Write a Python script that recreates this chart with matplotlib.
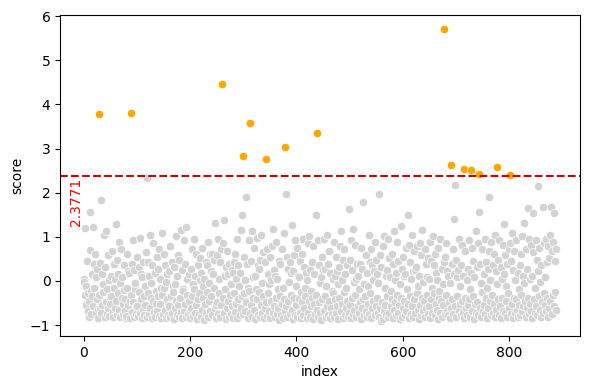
import numpy as np
import matplotlib.pyplot as plt

threshold = 2.3771

# score per index (10 per row)
scores = [
    0.05, -0.02, 1.21, -0.31, -0.55, -0.12, 0.45, -0.69, -0.28, -0.81,
    -0.45, 0.71, 1.56, -0.22, -0.76, -0.35, 0.15, 1.22, -0.58, 0.38,
    -0.15, 0.62, -0.72, 0.08, -0.41, 0.28, -0.85, -0.63, -0.33, 3.78,
    -0.62, 0.41, 1.83, -0.72, 0.15, -0.55, -0.08, -0.25, 1.05, -0.81,
    0.32, -0.48, 1.13, -0.74, -0.18, 0.58, -0.62, 0.02, -0.79, -0.38,
    -0.52, 0.12, -0.35, 0.68, -0.71, -0.81, -0.15, 0.38, -0.61, 0.05,
    1.29, -0.45, 0.48, -0.78, 0.15, -0.28, 0.88, -0.66, -0.05, -0.82,
    0.72, -0.38, 0.08, -0.75, -0.52, -0.21, 0.35, -0.69, -0.42, -0.85,
    -0.79, 0.62, -0.15, 0.22, -0.55, 0.18, -0.83, -0.45, -0.32, 3.81,
    -0.71, 0.38, 0.92, -0.48, -0.82, 0.25, -0.19, -0.05, -0.76, -0.58,
    -0.58, 0.55, -0.79, 0.32, -0.25, 0.98, -0.72, -0.41, 0.15, -0.83,
    0.08, -0.65, 0.42, -0.35, -0.78, -0.12, -0.55, 0.65, -0.81, 2.34,
    -0.28, 0.42, -0.75, 0.12, 1.04, -0.62, -0.38, -0.05, -0.85, 0.35,
    -0.45, 0.85, -0.71, 0.18, -0.82, -0.52, -0.22, 0.55, -0.68, -0.35,
    0.28, -0.79, 0.72, -0.52, 0.05, -0.84, -0.15, -0.31, 1.08, -0.75,
    -0.15, 0.62, -0.66, 0.35, -0.83, -0.02, -0.42, 0.15, -0.77, -0.55,
    -0.58, 0.22, -0.81, 0.78, -0.35, 0.42, -0.72, -0.12, -0.25, -0.86,
    0.32, -0.62, -0.08, -0.45, 1.02, -0.78, 0.12, -0.55, 0.58, -0.82,
    0.48, -0.38, 1.15, -0.71, 0.25, -0.85, -0.18, -0.22, -0.68, 0.92,
    -0.52, 0.38, -0.82, 1.22, -0.31, 0.05, -0.76, 0.15, -0.45, -0.65,
    -0.84, 0.28, -0.62, 0.72, -0.35, -0.79, -0.08, -0.18, 0.95, -0.72,
    0.12, -0.55, 0.62, -0.86, 0.35, -0.42, -0.28, -0.75, 0.02, 0.52,
    -0.81, 0.18, -0.65, 0.75, -0.38, -0.12, -0.88, 0.05, -0.52, 0.42,
    -0.72, 0.35, -0.25, 0.88, -0.82, -0.05, -0.45, 0.62, -0.68, 0.22,
    -0.35, 0.62, -0.78, 0.15, -0.15, 0.48, -0.62, 1.32, -0.85, -0.55,
    -0.48, 0.58, -0.75, 0.95, -0.28, 0.05, -0.82, 0.42, -0.55, 0.72,
    4.46, -0.38, 0.85, -0.72, 1.37, -0.18, 0.12, -0.86, 0.32, -0.62,
    0.68, -0.45, 0.15, -0.81, 0.38, -0.32, -0.08, -0.75, 0.25, -0.58,
    0.18, -0.83, 0.42, -0.28, 0.62, -0.71, 0.05, -0.52, 0.95, -0.85,
    0.35, -0.42, -0.12, -0.78, 0.18, -0.62, 1.15, 1.50, -0.35, 2.84,
    -0.75, 0.55, -0.28, 0.02, -0.68, 1.90, -0.48, 0.38, -0.84, -0.15,
    -0.22, 0.92, 3.58, -0.72, 0.45, -0.55, 1.12, -0.82, 0.08, -0.38,
    0.75, -0.65, 0.12, -0.86, -0.18, -0.42, 0.98, -0.78, 0.35, -0.25,
    0.28, -0.81, 0.48, -0.55, 1.05, -0.72, -0.05, -0.35, 0.65, -0.84,
    0.42, -0.62, 2.77, -0.48, 0.72, -0.79, 0.15, -0.28, -0.08, -0.68,
    0.55, -0.85, 0.02, -0.45, 0.78, -0.72, 1.18, -0.58, 0.25, -0.82,
    0.12, -0.38, 0.88, -0.75, 0.05, -0.62, -0.18, -0.88, 0.45, -0.35,
    0.38, -0.78, 0.72, -0.52, -0.15, -0.85, 1.08, -0.42, 3.04, -0.68,
    1.98, -0.58, 0.55, -0.82, 0.28, -0.45, -0.02, -0.75, 0.42, -0.32,
    0.18, 1.26, -0.65, 0.22, -0.86, 0.58, -0.38, 0.92, -0.78, -0.12,
    -0.55, 0.75, -0.82, 0.12, -0.42, 0.08, -0.72, 0.45, -0.25, -0.85,
    0.62, -0.48, 0.95, -0.78, 0.32, -0.62, -0.15, -0.35, 0.18, -0.84,
    0.02, -0.72, 0.85, -0.45, 1.02, -0.81, 0.25, -0.58, -0.22, -0.38,
    0.42, -0.86, 0.78, -0.52, 0.15, -0.75, 1.50, -0.32, 3.36, -0.65,
    0.92, -0.82, 0.35, -0.48, -0.05, -0.72, 0.08, -0.88, 0.55, -0.42,
    0.25, -0.68, 0.95, -0.35, 0.28, -0.82, -0.12, -0.58, 1.05, -0.78,
    0.38, -0.45, 0.68, -0.85, 0.18, -0.62, -0.22, -0.75, 0.05, -0.28,
    0.88, -0.82, 0.12, -0.42, 0.55, -0.72, 0.22, -0.58, -0.08, -0.86,
    0.32, -0.38, 0.78, -0.68, 1.12, -0.52, 0.02, -0.84, 0.48, -0.25,
    0.72, -0.78, 0.15, -0.62, -0.15, -0.45, 0.35, -0.81, 1.62, -0.72,
    0.48, -0.55, 0.92, -0.85, 0.25, -0.38, 1.18, -0.75, -0.02, -0.65,
    0.82, -0.32, 0.05, -0.82, 0.38, -0.58, 0.12, -0.72, -0.18, -0.48,
    0.38, -0.86, 0.75, -0.62, 0.28, -0.42, 1.78, -0.78, -0.08, -0.35,
    0.58, -0.68, 0.18, -0.82, -0.12, -0.52, 1.05, -0.75, 0.42, -0.28,
    0.72, -0.85, 0.35, -0.62, 0.02, -0.45, 0.22, -0.78, 0.88, -0.58,
    0.48, -0.38, 0.15, -0.72, -0.05, -0.82, 1.96, -0.62, 0.58, -0.92,
    0.32, -0.48, 0.78, -0.86, 1.02, -0.68, -0.15, -0.55, 0.12, -0.78,
    0.25, -0.35, 0.95, -0.82, 0.52, -0.72, 0.08, -0.58, -0.22, -0.42,
    0.62, -0.85, 0.38, -0.65, 1.12, -0.48, 0.02, -0.78, 0.18, -0.32,
    0.88, -0.72, 0.45, -0.55, -0.08, -0.86, 1.25, -0.38, 0.28, -0.82,
    0.55, -0.62, 0.12, -0.45, 0.15, -0.78, 0.75, -0.68, -0.18, 1.50,
    -0.52, 0.82, -0.85, 0.42, -0.35, 0.05, -0.75, 1.05, -0.58, 0.22,
    -0.82, 0.68, -0.42, 0.25, -0.72, 0.32, -0.28, 0.78, -0.65, -0.12,
    -0.86, 0.12, -0.55, 0.85, -0.78, 0.58, -0.38, 1.15, -0.68, -0.02,
    -0.45, 0.72, -0.82, 0.38, -0.62, 0.08, -0.32, 0.52, -0.75, 0.05,
    -0.58, 0.88, -0.85, 0.45, -0.42, -0.15, -0.72, 1.02, -0.28, 0.35,
    -0.78, 0.62, -0.52, 0.18, -0.65, 0.02, -0.86, 0.75, -0.38, -0.22,
    -0.72, 0.95, -0.45, 0.28, -0.82, -0.08, -0.55, 0.42, 5.70, -0.75,
    0.55, -0.32, 0.85, -0.68, 0.22, -0.78, 0.12, -0.48, -0.05, -0.85,
    2.63, -0.62, 0.38, -0.42, 0.72, -0.75, 0.15, 1.41, -0.58, 2.18,
    0.48, -0.82, 0.08, -0.35, 0.25, -0.68, 0.95, -0.52, -0.12, -0.78,
    0.35, -0.45, 0.82, -0.72, 0.12, -0.85, 2.54, -0.38, 0.68, -0.62,
    0.02, -0.78, 0.28, -0.55, 0.92, -0.42, -0.18, -0.82, 0.18, 2.52,
    -0.68, 0.75, -0.35, 0.45, -0.86, 0.08, -0.52, 1.12, -0.72, 0.32,
    -0.48, 0.85, -0.78, 2.43, 1.57, -0.62, 0.38, -0.82, -0.05, -0.25,
    0.72, -0.68, 0.15, -0.55, 0.95, -0.75, 0.42, -0.38, -0.15, -0.85,
    0.28, -0.62, 0.68, 1.90, -0.45, 0.02, -0.78, 0.88, -0.32, 0.35,
    -0.72, 0.62, -0.52, 1.05, -0.82, 0.22, -0.65, -0.08, 2.59, -0.42,
    0.48, -0.78, 0.92, -0.58, 0.32, -0.85, 0.05, -0.38, 0.82, -0.68,
    0.15, 1.30, -0.72, 0.58, -0.45, -0.12, -0.82, 0.38, -0.28, 0.72,
    -0.62, 0.85, 2.39, -0.75, 0.45, -0.52, 1.08, -0.85, 0.25, -0.38,
    0.68, -0.72, 0.02, -0.42, 0.92, -0.65, 0.18, -0.82, -0.18, -0.55,
    0.35, -0.78, 0.62, -0.32, 1.02, -0.68, 0.12, -0.58, -0.05, 1.32,
    -0.45, 0.72, -0.82, 0.28, -0.62, 1.65, -0.38, 0.95, -0.75, 0.05,
    -0.52, 0.82, -0.68, 0.12, -0.85, 0.65, 1.53, -0.42, -0.15, -0.72,
    0.92, -0.58, 0.48, -0.78, 0.22, 2.14, -0.35, 0.75, -0.65, -0.02,
    -0.82, 0.35, -0.48, 1.68, -0.72, 0.85, -0.28, 0.08, -0.55, 0.95,
    -0.68, 0.42, -0.38, 0.78, -0.82, 0.52, -0.62, 1.05, -0.45, 1.68,
    -0.75, 0.68, -0.32, 0.88, -0.58, 1.55, -0.25, 0.45, -0.65, 0.72,
]

scores = np.array(scores)
idx = np.arange(len(scores))
above = scores > threshold

fig, ax = plt.subplots(figsize=(5.9, 3.89))
fig.subplots_adjust(left=0.102, right=0.983, top=0.962, bottom=0.136)
ax.scatter(idx[~above], scores[~above], s=36, c='lightgray', edgecolors='white', linewidths=0.48)
ax.scatter(idx[above], scores[above], s=36, c='orange', edgecolors='white', linewidths=0.48)
ax.axhline(threshold, color='#cc0000', linestyle='--', linewidth=1.5)
ax.text(-15, threshold - 0.05, f'{threshold:.4f}', rotation=90, color='red',
        ha='center', va='top', fontsize=10)

ax.set_xlabel('index')
ax.set_ylabel('score')
plt.savefig('out.png', dpi=100)
